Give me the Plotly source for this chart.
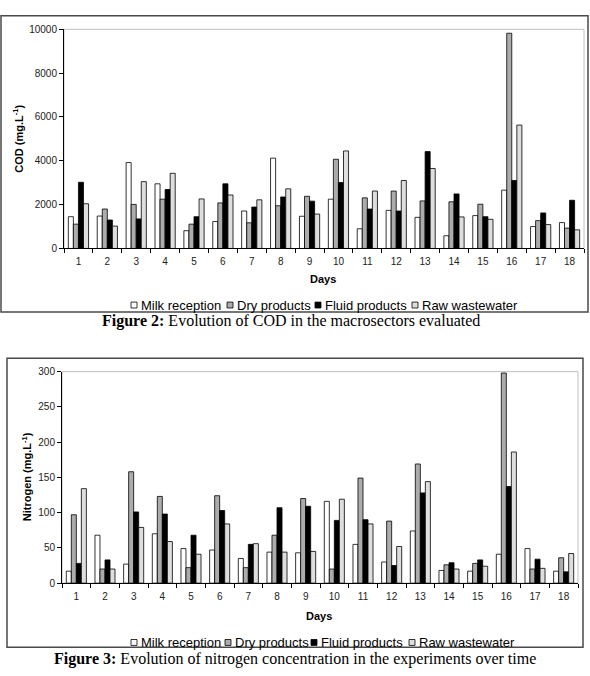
import plotly.graph_objects as go

W, H = 590, 676

days = [str(i) for i in range(1, 19)]
series_names = ["Milk reception", "Dry products", "Fluid products", "Raw wastewater"]
series_colors = ["#ffffff", "#acacac", "#000000", "#dedede"]

cod_milk = [1450, 1480, 3920, 2950, 810, 1230, 1710, 4120, 1470, 2250, 900, 1740, 1420, 580, 1500, 2660, 1000, 1180]
cod_dry = [1110, 1800, 2010, 2250, 1110, 2080, 1170, 1950, 2380, 4070, 2310, 2620, 2170, 2130, 2020, 9820, 1270, 930]
cod_fluid = [3020, 1300, 1350, 2690, 1450, 2950, 1890, 2350, 2160, 3010, 1800, 1710, 4420, 2490, 1450, 3100, 1620, 2200]
cod_raw = [2040, 1020, 3050, 3430, 2260, 2440, 2220, 2720, 1570, 4450, 2620, 3100, 3650, 1440, 1330, 5630, 1090, 850]

n_milk = [17, 68, 27, 70, 49, 47, 35, 44, 43, 116, 55, 30, 74, 18, 17, 41, 49, 17]
n_dry = [97, 20, 158, 123, 22, 124, 22, 68, 120, 20, 149, 88, 169, 26, 28, 298, 20, 36]
n_fluid = [28, 33, 101, 98, 68, 103, 55, 107, 109, 89, 90, 25, 128, 29, 33, 137, 34, 16]
n_raw = [134, 20, 79, 59, 41, 84, 56, 44, 45, 119, 84, 52, 144, 20, 24, 186, 21, 42]

cod_ticks = [0, 2000, 4000, 6000, 8000, 10000]
n_ticks = [0, 50, 100, 150, 200, 250, 300]


def px(x):
    return x / W


def py(y):
    return 1 - y / H


fig = go.Figure()

for name, col, vals in zip(series_names, series_colors, [cod_milk, cod_dry, cod_fluid, cod_raw]):
    fig.add_trace(go.Bar(x=days, y=vals, name=name, marker=dict(color=col, line=dict(color="#000000", width=0.8)),
                         xaxis="x", yaxis="y", showlegend=False))
for name, col, vals in zip(series_names, series_colors, [n_milk, n_dry, n_fluid, n_raw]):
    fig.add_trace(go.Bar(x=days, y=vals, name=name, marker=dict(color=col, line=dict(color="#000000", width=0.8)),
                         xaxis="x2", yaxis="y2", showlegend=False))

tickfont = dict(family="Liberation Sans, Arial, sans-serif", size=10, color="#222222")
xcommon = dict(type="category", tickson="boundaries", ticks="outside", ticklen=4, tickcolor="#000000",
               showline=True, linecolor="#000000", linewidth=1, showgrid=False, tickfont=tickfont,
               ticklabelstandoff=4, fixedrange=True)
ycommon = dict(ticks="outside", ticklen=4, tickcolor="#000000", showline=True, linecolor="#000000",
               linewidth=1, showgrid=False, tickfont=tickfont, zeroline=False, tickformat="d",
               fixedrange=True)

fig.update_layout(
    width=W, height=H,
    margin=dict(l=0, r=0, t=0, b=0),
    paper_bgcolor="#ffffff", plot_bgcolor="rgba(0,0,0,0)",
    barmode="group", bargap=0.3, bargroupgap=0,
    showlegend=False,
    xaxis=dict(domain=[px(64), px(584)], anchor="y", **xcommon),
    yaxis=dict(domain=[py(247.5), py(24.7)], anchor="x", range=[0, 10000], tickvals=cod_ticks, **ycommon),
    xaxis2=dict(domain=[px(62), px(578)], anchor="y2", **xcommon),
    yaxis2=dict(domain=[py(587.7), py(372.7)], anchor="x2", range=[0, 300], tickvals=n_ticks, **ycommon),
)

shapes = []
# plot-area borders (gray, Excel style)
for xr, yr in [("x domain", "y domain"), ("x2 domain", "y2 domain")]:
    shapes.append(dict(type="rect", xref=xr, yref=yr, x0=0, x1=1, y0=0, y1=1,
                       line=dict(color="#c0c0c0", width=1), layer="below"))
# outer frames
frame_line = dict(color="#4a4a4a", width=1.5)
shapes.append(dict(type="rect", xref="paper", yref="paper", x0=px(1), x1=px(588), y0=py(312), y1=py(11),
                   line=frame_line))
shapes.append(dict(type="rect", xref="paper", yref="paper", x0=px(7), x1=px(583), y0=py(653), y1=py(359),
                   line=frame_line))

annotations = []
legfont = dict(family="Liberation Sans, Arial, sans-serif", size=13, color="#000000")
leg_text_x = [[139, 235, 323, 420], [139, 233, 319, 417]]
leg_y = [305, 648]
for k in range(2):
    for i, name in enumerate(series_names):
        tx = leg_text_x[k][i]
        yc = leg_y[k]
        shapes.append(dict(type="rect", xref="paper", yref="paper", x0=px(tx - 8), x1=px(tx - 2),
                           y0=py(yc + 3), y1=py(yc - 3), fillcolor=series_colors[i],
                           line=dict(color="#000000", width=0.8)))
        annotations.append(dict(text=name, xref="paper", yref="paper", x=px(tx), y=py(yc), xanchor="left",
                                yanchor="middle", showarrow=False, font=legfont))

boldfont = dict(family="Liberation Sans, Arial, sans-serif", size=11, color="#000000")
annotations += [
    dict(text="<b>COD (mg.L<sup>-1</sup>)</b>", xref="paper", yref="paper", x=px(18), y=py(136),
         xanchor="center", yanchor="middle", textangle=-90, showarrow=False, font=boldfont),
    dict(text="<b>Nitrogen (mg.L<sup>-1</sup>)</b>", xref="paper", yref="paper", x=px(27), y=py(480),
         xanchor="center", yanchor="middle", textangle=-90, showarrow=False, font=boldfont),
    dict(text="<b>Days</b>", xref="paper", yref="paper", x=px(323), y=py(279), xanchor="center",
         yanchor="middle", showarrow=False, font=boldfont),
    dict(text="<b>Days</b>", xref="paper", yref="paper", x=px(319), y=py(621), xanchor="center",
         yanchor="middle", showarrow=False, font=boldfont),
]

capfont = dict(family="Liberation Serif, Times New Roman, serif", size=16, color="#000000")
annotations += [
    dict(text="<b>Figure 2:</b> Evolution of COD in the macrosectors evaluated", xref="paper", yref="paper",
         x=px(291), y=py(321), xanchor="center", yanchor="middle", showarrow=False, font=capfont),
    dict(text="<b>Figure 3:</b> Evolution of nitrogen concentration in the experiments over time",
         xref="paper", yref="paper", x=px(295), y=py(665), xanchor="center", yanchor="middle",
         showarrow=False, font=capfont),
]

fig.update_layout(shapes=shapes, annotations=annotations)

fig.write_html("out.html")
